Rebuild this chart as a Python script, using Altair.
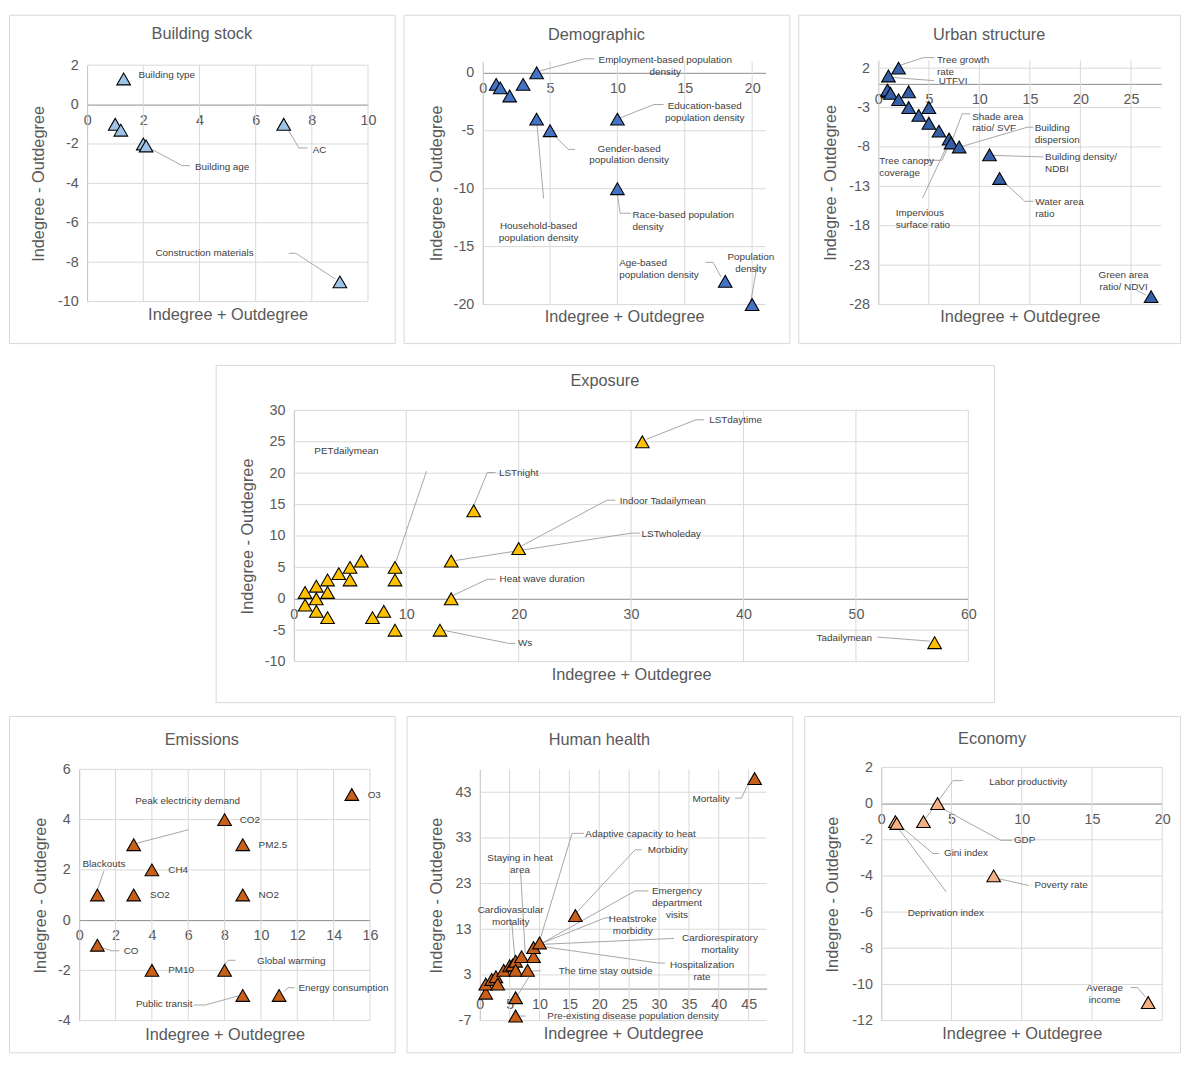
import altair as alt
import pandas as pd

FONT = "Liberation Sans"
AXIS_GRAY = "#595959"
TEXT_GRAY = "#404040"
GRID = "#d9d9d9"
LEADER = "#a6a6a6"
X_TITLE = "Indegree + Outdegree"
Y_TITLE = "Indegree - Outdegree"

# ---------------- Building stock ----------------
bs_x = [1.3, 1.0, 1.2, 2.0, 2.1, 7.0, 9.0]
bs_y = [1.3, -1.0, -1.3, -2.0, -2.1, -1.0, -9.0]
bs_xticks = [0, 2, 4, 6, 8, 10]
bs_yticks = [-10, -8, -6, -4, -2, 0, 2]
bs_lab = ["Building type", "Building age", "AC", "Construction materials"]
bs_lab_x = [1.83, 3.84, 8.03, 2.43]
bs_lab_y = [1.5, -3.18, -2.3, -7.55]
bs_lab_al = ["left", "left", "left", "left"]
bs_lead = [
    [(2.08, -2.1), (3.38, -3.1), (3.66, -3.1)],
    [(7.08, -1.1), (7.54, -2.2), (7.85, -2.2)],
    [(7.18, -7.55), (7.43, -7.55), (8.84, -8.86)],
]

# ---------------- Demographic ----------------
dm_x = [1, 1.3, 2, 3, 4, 4, 5, 10, 10, 18, 20]
dm_y = [-1, -1.3, -2, -1, 0, -4, -5, -4, -10, -18, -20]
dm_xticks = [0, 5, 10, 15, 20]
dm_yticks = [-20, -15, -10, -5, 0]
dm_lab = ["Employment-based population\ndensity", "Education-based\npopulation density",
          "Gender-based\npopulation density", "Household-based\npopulation density",
          "Race-based population\ndensity", "Age-based\npopulation density", "Population\ndensity"]
dm_lab_x = [13.55, 16.48, 10.87, 4.15, 11.11, 10.13, 19.9]
dm_lab_y = [1.1, -2.84, -6.54, -13.2, -12.26, -16.4, -15.9]
dm_lab_al = ["center", "center", "center", "center", "left", "left", "center"]
dm_lead = [
    [(4.27, 0.17), (7.57, 1.21), (8.28, 1.21)],
    [(10.13, -3.92), (12.7, -2.74), (13.43, -2.74)],
    [(5.25, -5.34), (6.35, -6.61), (6.84, -6.61)],
    [(4.03, -4.49), (4.52, -10.85)],
    [(10.01, -10.57), (10.2, -12.12), (10.99, -12.12)],
    [(17.7, -17.63), (17.1, -16.36), (16.56, -16.36)],
    [(19.9, -19.75), (20.39, -16.5)],
]

# ---------------- Urban structure ----------------
us_x = [2, 1, 1, 0.9, 1.2, 2, 3, 3, 4, 5, 5, 6, 7, 7.2, 8, 11, 12, 27]
us_y = [2, 1, -1, -0.8, -1.2, -2, -1, -3, -4, -3, -5, -6, -7, -7.5, -8, -9, -12, -27]
us_xticks = [0, 5, 10, 15, 20, 25]
us_yticks = [-28, -23, -18, -13, -8, -3, 2]
us_lab = ["Tree growth\nrate", "UTFVI", "Shade area\nratio/ SVF", "Building\ndispersion",
          "Building density/\nNDBI", "Water area\nratio", "Green area\nratio/ NDVI",
          "Tree canopy\ncoverage", "Impervious\nsurface ratio"]
us_lab_x = [5.8, 5.99, 9.29, 15.47, 16.5, 15.53, 24.27, 0.1, 1.72]
us_lab_y = [3.07, 0.33, -4.15, -5.66, -9.27, -14.95, -24.25, -9.8, -16.4]
us_lab_al = ["left", "left", "left", "left", "left", "left", "center", "left", "left"]
us_lead = [
    [(2.23, 2.4), (4.47, 3.33), (5.53, 3.33)],
    [(1.26, 0.83), (5.5, 0.41)],
    [(7.3, -7.2), (8.3, -3.8), (9.1, -3.8)],
    [(8.25, -7.95), (14.73, -5.5), (15.34, -5.5)],
    [(11.33, -9.07), (16.34, -9.27)],
    [(12.04, -12.0), (14.5, -14.9), (15.37, -14.9)],
    [(25.56, -26.2), (26.5, -26.8)],
    [(4.6, -9.7), (6.3, -9.7), (7.1, -7.4)],
    [(4.37, -14.5), (6.96, -7.4)],
]

# ---------------- Exposure ----------------
ex_x = [1, 1, 2, 2, 2, 3, 3, 3, 4, 5, 5, 6, 7, 8, 9, 9, 9, 13, 14, 14, 16, 20, 31, 57]
ex_y = [1, -1, 2, 0, -2, 3, 1, -3, 4, 5, 3, 6, -3, -2, 5, 3, -5, -5, 6, 0, 14, 8, 25, -7]
ex_xticks = [0, 10, 20, 30, 40, 50, 60]
ex_yticks = [-10, -5, 0, 5, 10, 15, 20, 25, 30]
ex_lab = ["PETdailymean", "LSTnight", "LSTdaytime", "Indoor Tadailymean", "LSTwholeday",
          "Heat wave duration", "Ws", "Tadailymean"]
ex_lab_x = [1.82, 18.24, 36.95, 29.0, 30.93, 18.3, 19.94, 46.5]
ex_lab_y = [23.5, 20.0, 28.5, 15.5, 10.3, 3.1, -7.1, -6.23]
ex_lab_al = ["left"] * 8
ex_lead = [
    [(9.1, 6.0), (11.8, 20.3)],
    [(15.95, 14.6), (17.2, 20.1), (17.94, 20.1)],
    [(14.13, 0.5), (17.2, 3.1), (17.94, 3.1)],
    [(13.26, -5.0), (19.1, -7.1), (19.7, -7.1)],
    [(20.3, 8.45), (27.85, 15.7), (28.6, 15.7)],
    [(14.4, 6.1), (30.0, 10.45), (30.8, 10.45)],
    [(31.37, 25.4), (35.77, 28.5), (36.5, 28.5)],
    [(51.9, -6.1), (56.6, -6.75)],
]

# ---------------- Emissions ----------------
em_x = [1, 1, 3, 3, 4, 4, 8, 8, 9, 9, 9, 11, 15]
em_y = [1, -1, 3, 1, 2, -2, 4, -2, 3, 1, -3, -3, 5]
em_xticks = [0, 2, 4, 6, 8, 10, 12, 14, 16]
em_yticks = [-4, -2, 0, 2, 4, 6]
em_lab = ["O3", "CO2", "PM2.5", "CH4", "SO2", "NO2", "CO", "PM10", "Global warming",
          "Public transit", "Energy consumption", "Blackouts", "Peak electricity demand"]
em_lab_x = [15.87, 8.83, 9.87, 4.9, 3.9, 9.87, 2.45, 4.9, 9.78, 3.12, 12.06, 1.36, 3.08]
em_lab_y = [4.98, 3.98, 2.98, 2.0, 1.0, 1.0, -1.22, -2.0, -1.64, -3.35, -2.7, 2.23, 4.75]
em_lab_al = ["left"] * 11 + ["center", "left"]
em_lead = [
    [(1.3, -1.1), (1.75, -1.22), (2.2, -1.22)],
    [(8.02, -1.75), (8.2, -1.6), (8.6, -1.6)],
    [(8.75, -3.02), (6.93, -3.38), (6.3, -3.38)],
    [(11.28, -2.85), (11.47, -2.69), (11.85, -2.69)],
    [(1.0, 1.2), (1.36, 1.96)],
    [(3.12, 3.05), (6.02, 3.6)],
]

# ---------------- Human health ----------------
hh_x = [1, 1, 2, 2.7, 3, 4, 5, 5.5, 6, 6, 7, 8, 9, 9, 10, 6, 6, 16, 46]
hh_y = [-1, 1, 2, 2.6, 1, 4, 5, 5.2, 6, 4, 7, 4, 7, 9, 10, -2, -6, 16, 46]
hh_xticks = [0, 5, 10, 15, 20, 25, 30, 35, 40, 45]
hh_yticks = [-7, 3, 13, 23, 33, 43]
hh_lab = ["Mortality", "Adaptive capacity to heat", "Morbidity", "Emergency\ndepartment\nvisits",
          "Heatstroke\nmorbidity", "Cardiorespiratory\nmortality", "Hospitalization\nrate",
          "The time stay outside", "Pre-existing disease population density",
          "Staying in heat\narea", "Cardiovascular\nmortality"]
hh_lab_x = [35.6, 17.67, 28.1, 33.0, 25.6, 40.2, 37.2, 13.2, 11.3, 6.73, 5.17]
hh_lab_y = [41.6, 33.8, 30.3, 21.4, 15.3, 11.1, 5.15, 3.8, -6.1, 28.65, 17.15]
hh_lab_al = ["left", "left", "left", "center", "center", "center", "center", "left", "left",
             "center", "center"]
hh_lead = [
    [(44.9, 44.8), (43.8, 41.7), (42.7, 41.7)],
    [(9.8, 9.5), (15.45, 34.0), (17.4, 34.0)],
    [(16.3, 16.8), (26.0, 30.4), (27.1, 30.4)],
    [(10.2, 9.8), (26.0, 21.4), (28.2, 21.4)],
    [(10.3, 9.9), (21.0, 15.5), (22.0, 15.5)],
    [(10.5, 9.7), (32.5, 11.0)],
    [(10.0, 9.3), (29.9, 5.6), (31.0, 5.6)],
    [(6.3, -1.5), (8.9, 3.9), (10.2, 3.9)],
    [(6.6, -6.0), (7.7, -6.0)],
    [(6.83, 25.7), (7.6, 7.8)],
    [(5.33, 14.9), (5.9, 6.3)],
]

# ---------------- Economy ----------------
ec_x = [1, 1.1, 3, 4, 8, 19]
ec_y = [-1, -1.1, -1, 0, -4, -11]
ec_xticks = [0, 5, 10, 15, 20]
ec_yticks = [-12, -10, -8, -6, -4, -2, 0, 2]
ec_lab = ["Labor productivity", "GDP", "Gini index", "Deprivation index", "Poverty rate",
          "Average\nincome"]
ec_lab_x = [7.68, 9.44, 4.46, 1.88, 10.9, 15.9]
ec_lab_y = [1.21, -2.03, -2.76, -6.07, -4.53, -10.18]
ec_lab_al = ["left", "left", "left", "left", "left", "center"]
ec_lead = [
    [(3.1, -0.88), (5.1, 1.27), (5.8, 1.27)],
    [(4.27, -0.24), (8.5, -2.03), (9.32, -2.03)],
    [(1.22, -1.15), (3.68, -2.76), (4.1, -2.76)],
    [(1.1, -1.25), (4.63, -4.89)],
    [(8.38, -4.16), (10.5, -4.53)],
    [(17.77, -10.17), (18.24, -10.17), (18.82, -10.7)],
]

# panel geometry (frame size, plot area inside frame, domains, title placements)
G = {
    "bs": dict(W=390, H=332, L=79, R=363, T=51, B=290, xdom=[0, 10], ydom=[-10, 2], ty=20, xty=303, ytx=30),
    "dm": dict(W=390, H=332, L=80, R=366, T=47, B=293, xdom=[0, 21], ydom=[-20, 1], ty=21, xty=305, ytx=33),
    "us": dict(W=386, H=332, L=81, R=367, T=46, B=293, xdom=[0, 28], ydom=[-28, 3], ty=21, xty=305, ytx=33),
    "ex": dict(W=787, H=341, L=79, R=761, T=46, B=300, xdom=[0, 60], ydom=[-10, 30], ty=16, xty=313, ytx=32),
    "em": dict(W=390, H=340, L=71, R=365, T=54, B=308, xdom=[0, 16], ydom=[-4, 6], ty=24, xty=322, ytx=32),
    "hh": dict(W=390, H=340, L=74, R=364, T=54, B=308, xdom=[0, 48], ydom=[-7, 48], ty=24, xty=321, ytx=30),
    "ec": dict(W=380, H=340, L=78, R=362, T=52, B=308, xdom=[0, 20], ydom=[-12, 2], ty=23, xty=321, ytx=29),
}


def panel(title, color, px, py, lt, lx, ly, la, leads, xticks, yticks, g):
    W, H, L, R, T, B = g["W"], g["H"], g["L"], g["R"], g["T"], g["B"]
    xd, yd = g["xdom"], g["ydom"]
    y0 = T + yd[1] / (yd[1] - yd[0]) * (B - T)
    xs = alt.Scale(domain=xd, range=[L, R], nice=False, zero=False)
    ys = alt.Scale(domain=yd, range=[B, T], nice=False, zero=False)
    common = dict(grid=False, ticks=False, labelFont=FONT, labelFontSize=14.5, labelColor=AXIS_GRAY,
                  labelPadding=9, labelFlush=False, labelOverlap=False, labelExpr="datum.value + ''",
                  titleFont=FONT, titleFontSize=16.5, titleFontWeight="normal", titleColor=AXIS_GRAY,
                  titleAlign="center", titleBaseline="middle", domainWidth=1)
    xaxis = alt.Axis(values=xticks, orient="bottom", offset=y0 - H, domainColor="#8c8c8c",
                     title=X_TITLE, titleX=(L + R) / 2, titleY=g["xty"] - y0, **common)
    yaxis = alt.Axis(values=yticks, orient="left", offset=-L, domainColor="#bfbfbf",
                     title=Y_TITLE, titleAngle=270, titleX=g["ytx"] - L, titleY=(T + B) / 2, **common)

    rows = []
    for t in xticks:
        if t != 0:
            rows.append({"kind": "vg", "x": t, "y": yd[0], "x2": t, "y2": yd[1]})
    for t in yticks:
        if t != 0:
            rows.append({"kind": "hg", "x": xd[0], "y": t, "x2": xd[1], "y2": t})
    for i, seg in enumerate(leads):
        for j, (a, b) in enumerate(seg):
            rows.append({"kind": "lead", "lid": i, "seq": j, "x": a, "y": b})
    for a, b in zip(px, py):
        rows.append({"kind": "pt", "x": a, "y": b})
    for t, a, b, al in zip(lt, lx, ly, la):
        rows.append({"kind": "lab_" + al, "x": a, "y": b, "txt": t})
    # panel heading, placed at the frame's centre through the same scales
    tx = xd[0] + (W / 2 - L) * (xd[1] - xd[0]) / (R - L)
    tyv = yd[1] - (g["ty"] - T) * (yd[1] - yd[0]) / (B - T)
    rows.append({"kind": "head", "x": tx, "y": tyv, "txt": title})
    df = pd.DataFrame(rows)

    X = alt.X("x:Q", scale=xs, axis=xaxis)
    Y = alt.Y("y:Q", scale=ys, axis=yaxis)
    base = alt.Chart(df)

    grid = base.transform_filter(
        "datum.kind == 'vg' || datum.kind == 'hg'").mark_rule(color=GRID, strokeWidth=1).encode(
        x=X, y=Y, x2="x2:Q", y2="y2:Q")
    lines = base.transform_filter("datum.kind == 'lead'").mark_line(
        color=LEADER, strokeWidth=1).encode(x=X, y=Y, detail="lid:N", order=alt.Order("seq:Q"))
    pts = base.transform_filter("datum.kind == 'pt'").mark_point(
        shape="triangle-up", filled=True, size=190, fill=color, stroke="black",
        strokeWidth=1.1, opacity=1).encode(x=X, y=Y)
    head = base.transform_filter("datum.kind == 'head'").mark_text(
        align="center", baseline="middle", font=FONT, fontSize=16.5, color=AXIS_GRAY).encode(
        x=X, y=Y, text="txt:N")
    layers = [grid, lines, pts, head]
    for a in ["left", "center"]:
        layers.append(base.transform_filter("datum.kind == 'lab_%s'" % a).mark_text(
            align=a, baseline="middle", font=FONT, fontSize=10, color=TEXT_GRAY,
            lineBreak="\n", lineHeight=12).encode(x=X, y=Y, text="txt:N"))

    return alt.layer(*layers).properties(width=W, height=H)


p1 = panel("Building stock", "#9DC3E6", bs_x, bs_y, bs_lab, bs_lab_x, bs_lab_y, bs_lab_al, bs_lead,
           bs_xticks, bs_yticks, G["bs"])
p2 = panel("Demographic", "#4472C4", dm_x, dm_y, dm_lab, dm_lab_x, dm_lab_y, dm_lab_al, dm_lead,
           dm_xticks, dm_yticks, G["dm"])
p3 = panel("Urban structure", "#3560A8", us_x, us_y, us_lab, us_lab_x, us_lab_y, us_lab_al, us_lead,
           us_xticks, us_yticks, G["us"])
p4 = panel("Exposure", "#FFC000", ex_x, ex_y, ex_lab, ex_lab_x, ex_lab_y, ex_lab_al, ex_lead,
           ex_xticks, ex_yticks, G["ex"])
p5 = panel("Emissions", "#C8601A", em_x, em_y, em_lab, em_lab_x, em_lab_y, em_lab_al, em_lead,
           em_xticks, em_yticks, G["em"])
p6 = panel("Human health", "#C8601A", hh_x, hh_y, hh_lab, hh_lab_x, hh_lab_y, hh_lab_al, hh_lead,
           hh_xticks, hh_yticks, G["hh"])
p7 = panel("Economy", "#F4B183", ec_x, ec_y, ec_lab, ec_lab_x, ec_lab_y, ec_lab_al, ec_lead,
           ec_xticks, ec_yticks, G["ec"])

spacer = alt.Chart(pd.DataFrame({"s": [0]})).mark_point(opacity=0).encode(
    x=alt.X("s:Q", axis=None), y=alt.Y("s:Q", axis=None)).properties(
    width=203, height=10, view=alt.ViewBackground(strokeWidth=0, strokeOpacity=0))

top = alt.hconcat(p1, p2, p3, spacing=7)
mid = alt.hconcat(spacer, p4, spacing=5)
bot = alt.hconcat(p5, p6, p7, spacing=10)

chart = alt.vconcat(top, alt.vconcat(mid, bot, spacing=12), spacing=20).properties(
    padding={"left": 0, "top": 0, "right": 0, "bottom": 0},
    background="white").configure_view(stroke=GRID, strokeWidth=1)

chart.save("out.html", embed_options={"renderer": "svg", "actions": False})
